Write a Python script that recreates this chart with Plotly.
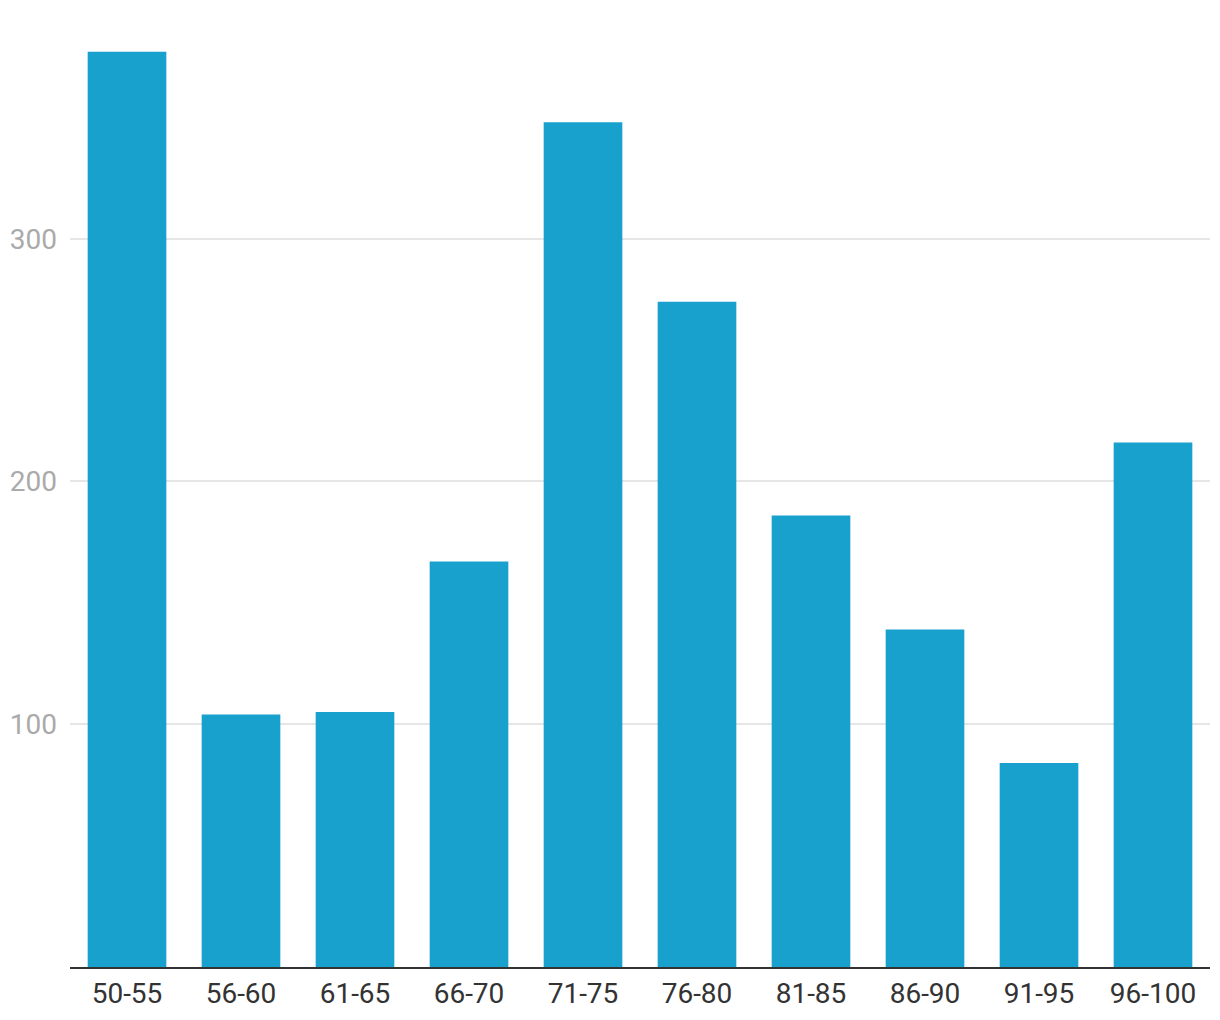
import plotly.graph_objects as go

categories = ["50-55", "56-60", "61-65", "66-70", "71-75", "76-80", "81-85", "86-90", "91-95", "96-100"]
values = [377, 104, 105, 167, 348, 274, 186, 139, 84, 216]
y_ticks = [100, 200, 300]

fig = go.Figure(go.Bar(x=categories, y=values, marker=dict(color="#18a1cd", line=dict(width=0))))

fig.update_layout(
    width=1212, height=1012,
    margin=dict(l=60, r=10, t=2, b=53, pad=0),
    paper_bgcolor="white", plot_bgcolor="white",
    bargap=0.31,
    showlegend=False,
    font=dict(family="Roboto", size=28),
)
fig.update_xaxes(
    showgrid=False, showline=True, linecolor="#333333", linewidth=2,
    ticks="", tickfont=dict(color="#333333", size=28, family="Roboto"),
    ticklabelstandoff=0,
)
fig.update_yaxes(
    range=[0, 394.2], tickvals=y_ticks, showgrid=True, gridcolor="#e6e6e6", gridwidth=2,
    zeroline=False, showline=False, ticks="",
    tickfont=dict(color="#aaaaaa", size=28, family="Roboto"),
    ticklabelstandoff=12,
)
fig.write_html("out.html")
